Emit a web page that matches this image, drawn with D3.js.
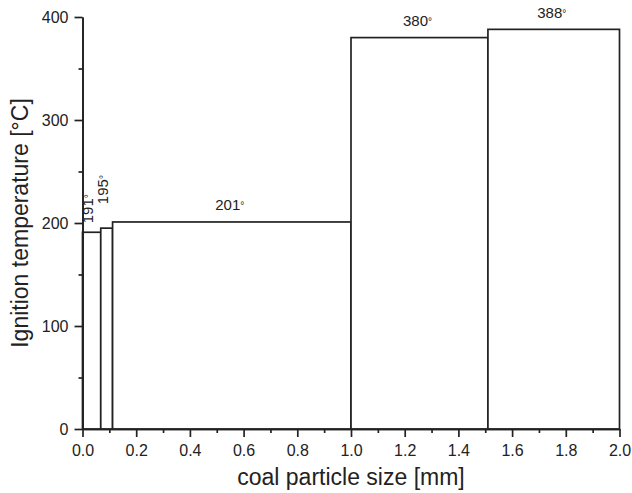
<!DOCTYPE html>
<html>
<head>
<meta charset="utf-8">
<script src="https://cdn.jsdelivr.net/npm/d3@7"></script>
<style>
  body { margin: 0; background: #fff; }
  text { font-family: "Liberation Sans", Arial, sans-serif; fill: #222; }
</style>
</head>
<body>
<svg id="drawing_region"></svg>
<script>
// data
const binStart = [0, 0.068, 0.112, 1.0, 1.51];
const binEnd = [0.068, 0.112, 1.0, 1.51, 2.0];
const ignitionTemp = [191, 195, 201, 380, 388];
const tempLabels = ["191", "195", "201", "380", "388"];
const xTicks = [0, 0.2, 0.4, 0.6, 0.8, 1.0, 1.2, 1.4, 1.6, 1.8, 2.0];
const xMinorTicks = [0.1, 0.3, 0.5, 0.7, 0.9, 1.1, 1.3, 1.5, 1.7, 1.9];
const yTicks = [0, 100, 200, 300, 400];
const yMinorTicks = [50, 150, 250, 350];

const width = 632;
const height = 493;
const plot_left = 82.5;
const plot_right = 619.5;
const plot_top = 17;
const plot_bottom = 429;

// label layout (gap above bar top, rotated or not)
const labelGap = [9, 24, 12, 12, 11];
const labelRotated = [true, true, false, false, false];

const svg = d3.select('#drawing_region')
    .attr('width', width)
    .attr('height', height);

const xscale = d3.scaleLinear().domain([0, 2]).range([plot_left, plot_right]);
const yscale = d3.scaleLinear().domain([0, 400]).range([plot_bottom, plot_top]);

const bars = binStart.map((d, i) => ({
    x0: d, x1: binEnd[i], value: ignitionTemp[i], label: tempLabels[i],
    gap: labelGap[i], rotated: labelRotated[i]
}));

// bars
svg.selectAll("rect.bar")
    .data(bars)
    .join("rect")
    .attr("class", "bar")
    .attr("x", d => xscale(d.x0))
    .attr("y", d => yscale(d.value))
    .attr("width", d => xscale(d.x1) - xscale(d.x0))
    .attr("height", d => yscale(0) - yscale(d.value))
    .attr("fill", "white")
    .attr("stroke", "#222")
    .attr("stroke-width", 1.7);

// axes
const styleAxis = g => {
    g.select(".domain").attr("stroke", "#222").attr("stroke-width", 1.7);
    g.selectAll(".tick line").attr("stroke", "#222").attr("stroke-width", 1.7);
    g.selectAll("text").attr("font-size", "16px").attr("fill", "#222")
        .attr("font-family", '"Liberation Sans", Arial, sans-serif');
};

svg.append("g")
    .attr("transform", `translate(0,${plot_bottom})`)
    .call(d3.axisBottom(xscale).tickValues(xMinorTicks).tickSize(4).tickSizeOuter(0).tickFormat(""))
    .call(styleAxis);

svg.append("g")
    .attr("transform", `translate(0,${plot_bottom})`)
    .call(d3.axisBottom(xscale).tickValues(xTicks).tickSize(8).tickSizeOuter(0)
        .tickFormat(d3.format(".1f")).tickPadding(8))
    .call(styleAxis);

svg.append("g")
    .attr("transform", `translate(${plot_left},0)`)
    .call(d3.axisLeft(yscale).tickValues(yMinorTicks).tickSize(4).tickSizeOuter(0).tickFormat(""))
    .call(styleAxis);

svg.append("g")
    .attr("transform", `translate(${plot_left},0)`)
    .call(d3.axisLeft(yscale).tickValues(yTicks).tickSize(8).tickSizeOuter(0).tickPadding(6))
    .call(styleAxis);

// value labels
const labels = svg.selectAll("text.value")
    .data(bars)
    .join("text")
    .attr("class", "value")
    .attr("font-size", "15px")
    .attr("text-anchor", d => d.rotated ? "start" : "middle")
    .attr("transform", d => {
        const cx = xscale((d.x0 + d.x1) / 2);
        const y = yscale(d.value) - d.gap;
        return d.rotated
            ? `translate(${cx + 1},${y}) rotate(-90)`
            : `translate(${cx - 2},${y})`;
    });
labels.append("tspan").text(d => d.label);
labels.append("tspan").attr("font-size", "10px").attr("dy", -1).text("°");

// axis titles
svg.append("text")
    .attr("x", (plot_left + plot_right) / 2)
    .attr("y", 485)
    .attr("text-anchor", "middle")
    .attr("font-size", "23px")
    .text("coal particle size [mm]");

svg.append("text")
    .attr("transform", `translate(28,${(plot_top + plot_bottom) / 2}) rotate(-90)`)
    .attr("text-anchor", "middle")
    .attr("font-size", "23px")
    .text("Ignition temperature [°C]");
</script>
</body>
</html>
